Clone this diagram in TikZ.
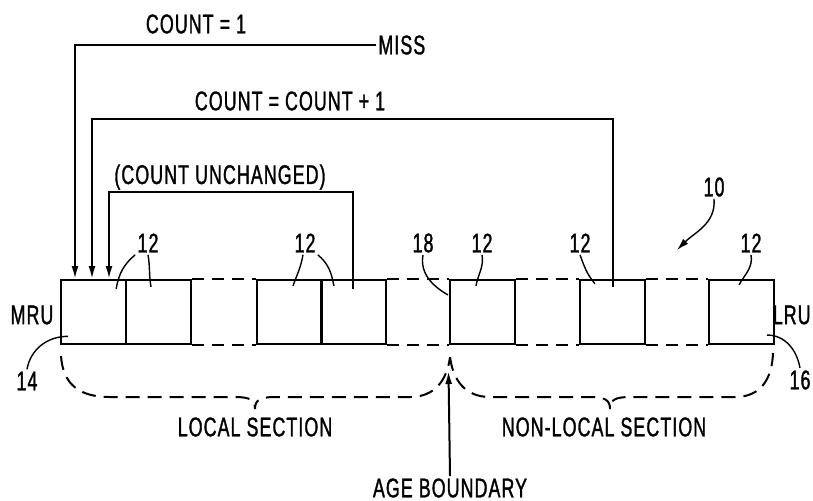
\documentclass[tikz,border=0pt]{standalone}
\usepackage{fontspec}
\setmainfont{Liberation Sans}[FakeStretch=0.66,FakeBold=1.2,LetterSpace=4]
\usetikzlibrary{arrows.meta}
\begin{document}
\begin{tikzpicture}[x=.5pt,y=-.5pt,every node/.style={font=\fontsize{13.5}{15}\selectfont,inner sep=1pt},
 cell/.style={draw,line width=1pt,minimum width=32.5pt,minimum height=32pt,inner sep=0pt},
 feed/.style={line width=1pt,-{Latex[length=6.5pt,width=3.5pt]}},
 lead/.style={line width=.7pt},
 brc/.style={line width=1pt,dash pattern=on 7pt off 4pt},
 gap/.style={line width=1pt,dash pattern=on 6pt off 4pt}]
\useasboundingbox (0,0) rectangle (813,500);
\node[cell] (c1) at (93.5,312) {};\node[cell] (c2) at (158.5,312) {};\node[cell] (c3) at (289,312) {};\node[cell] (c4) at (353,312) {};
\node[cell] (c5) at (482,312) {};\node[cell] (c6) at (612.5,312) {};\node[cell] (c7) at (741,312) {};
\draw[gap] (c2.north east)--(c3.north west) (c2.south east)--(c3.south west) (c4.north east)--(c5.north west) (c4.south east)--(c5.south west)
 (c5.north east)--(c6.north west) (c5.south east)--(c6.south west) (c6.north east)--(c7.north west) (c6.south east)--(c7.south west);
\node (cnt1) at (196,24) {COUNT = 1};\node[anchor=west] (miss) at (376,45) {MISS};
\node (cntinc) at (290,101) {COUNT = COUNT + 1};\node (cntsame) at (220,177) {(COUNT UNCHANGED)};
\draw[feed] (miss.west) -| ([xshift=7.5pt]c1.north west);
\draw[feed] ([yshift=-4pt]c6.north) -- ++(0,-168) -| ([xshift=16pt]c1.north west);
\draw[feed] ([yshift=-5pt]c4.north) -- ++(0,-97) -| ([xshift=24.5pt]c1.north west);
\node (mru) at (32,315) {MRU};\node[anchor=east,inner sep=0pt] (lru) at (811,315) {LRU};
\node (n14) at (27,381) {14};\node (n16) at (800,380) {16};
\node (l1) at (148,243) {12};\node (l2) at (305,243) {12};\node (n18) at (423,243) {18};\node (l3) at (482,243) {12};
\node (l4) at (580,243) {12};\node (l5) at (751,243) {12};\node (n10) at (714,187) {10};
\draw[lead] (l1.south west) to[out=-140,in=80] ++(-19,34) (l1.south) to[out=-80,in=100] ++(3,32);
\draw[lead] ([xshift=-1pt]l2.south) to[out=-100,in=70] ++(-10,31) (l2.south east) to[out=-40,in=100] ++(16,31);
\draw[lead] (n18.south) to[out=-100,in=150] ++(25,40);
\draw[lead] (l3.south) to[out=-80,in=80] ++(-6,31);
\draw[lead] (l4.south) to[out=-70,in=130] ++(15,29);
\draw[lead] (l5.south) to[out=-80,in=60] ++(-12,30);
\draw[lead,-{Latex[length=6pt,width=3.5pt]}] (n10.south) to[out=-85,in=45] ++(-37,51);
\draw[lead] (n14.north) to[out=80,in=180] ++(41,-33);
\draw[lead] (n16.north) to[out=100,in=0] ++(-33,-33);
\draw[brc] (61,356) .. controls (63,385) and (80,397) .. (110,397) -- (235,397) .. controls (250,397) and (255,400) .. (255,409)
 .. controls (255,400) and (260,397) .. (275,397) -- (410,397) .. controls (435,397) and (447,380) .. (450,357);
\draw[brc] (450,357) .. controls (453,380) and (465,397) .. (490,397) -- (590,397) .. controls (605,397) and (610,400) .. (610,409)
 .. controls (610,400) and (615,397) .. (630,397) -- (735,397) .. controls (760,397) and (772,380) .. (773,353);
\node (loc) at (255,427) {LOCAL SECTION};\node (nonloc) at (604,427) {NON-LOCAL SECTION};
\node (age) at (450,488) {AGE BOUNDARY};
\draw[feed] (age.north) -- ([yshift=-13pt]c5.south west);
\end{tikzpicture}
\end{document}
